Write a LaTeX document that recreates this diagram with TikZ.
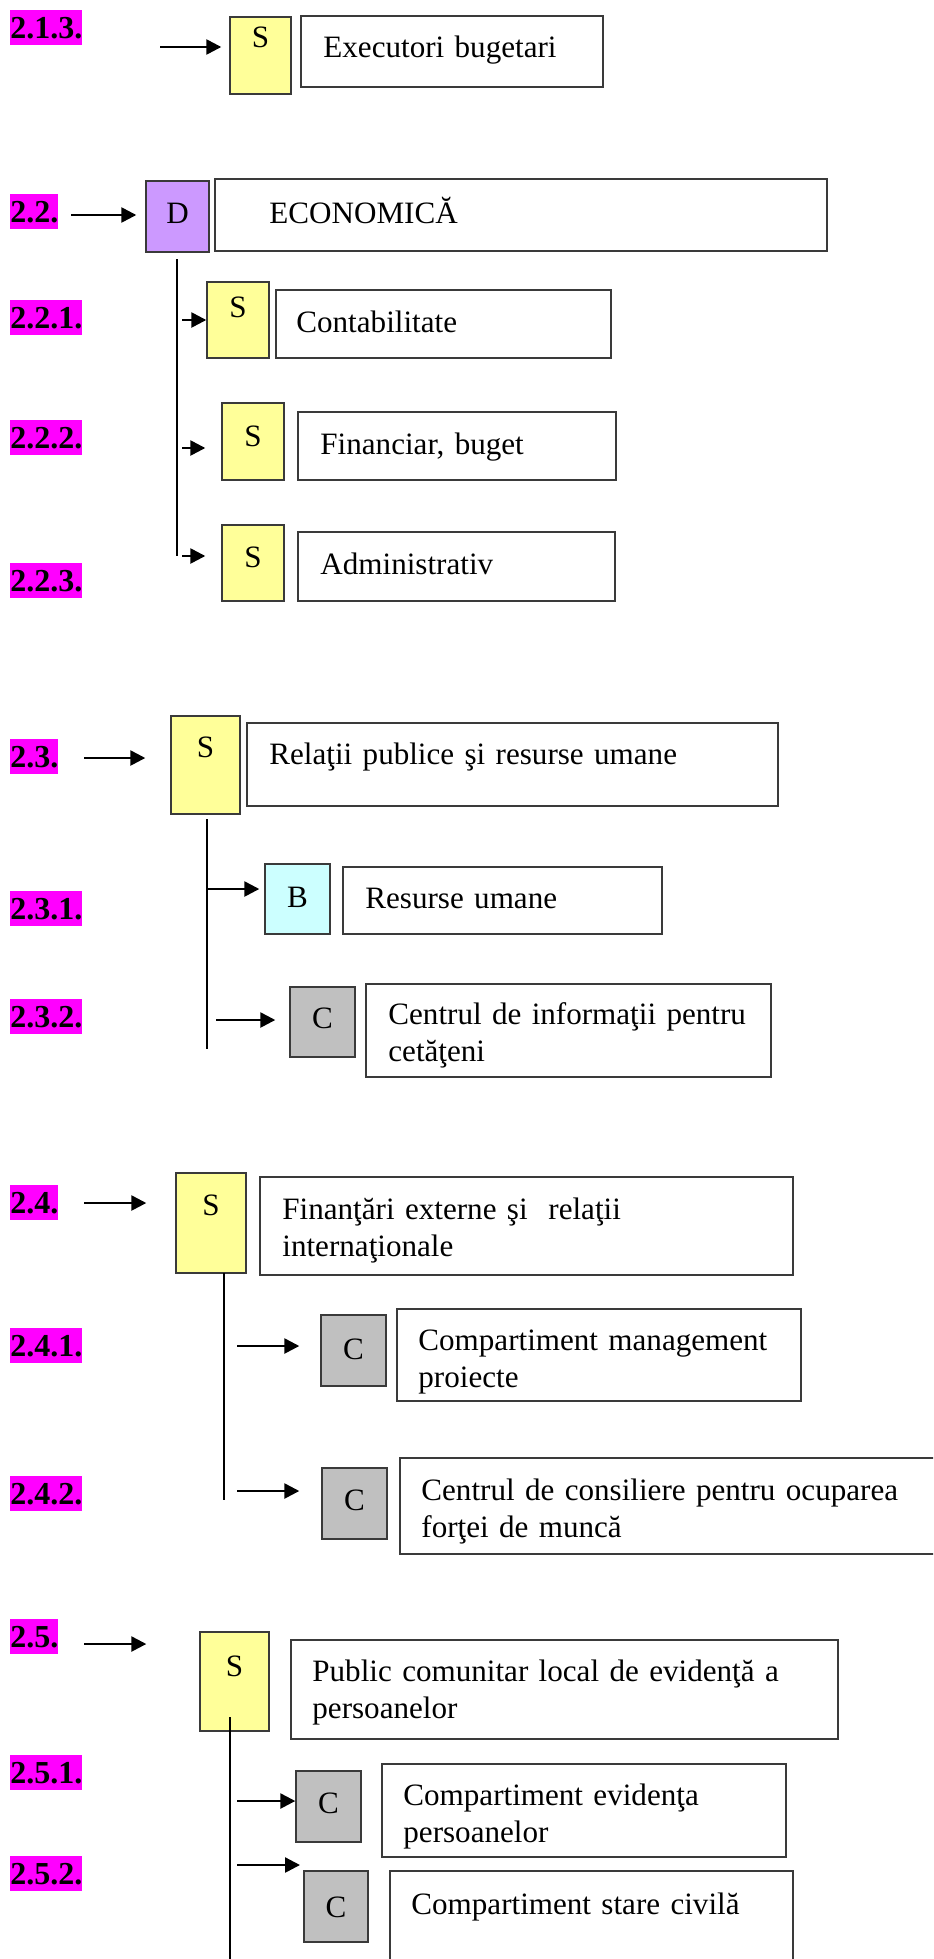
\documentclass[tikz,border=0pt]{standalone}
\usepackage{fontspec}
\setmainfont{Liberation Serif}
\usetikzlibrary{fit,arrows.meta}

\definecolor{hilite}{HTML}{FF00FF}
\definecolor{sfill}{HTML}{FFFF99}
\definecolor{dfill}{HTML}{CC99FF}
\definecolor{bfill}{HTML}{CCFFFF}
\definecolor{cfill}{HTML}{C0C0C0}
\definecolor{edge}{HTML}{3A3A3A}

\tikzset{
    lbl/.style={fill=hilite, inner sep=0pt, text height=0.891em, text depth=0.216em, anchor=north west, font=\fontsize{16}{18.5}\selectfont\bfseries},
    unit/.style={draw=edge, line width=0.7pt, inner sep=0pt},
    txtbox/.style={draw=edge, line width=0.9pt, inner sep=0pt},
    txt/.style={anchor=base west, inner sep=0pt, yshift=-1pt, text width=260pt, align=left},
    lett/.style={anchor=base, inner sep=0pt},
    arr/.style={-{Triangle[length=7.5pt,width=7.5pt]}, line width=1.25pt},
    vline/.style={line width=0.75pt}
}

\begin{document}
\fontsize{15.55}{18.5}\selectfont
\begin{tikzpicture}[x=0.5pt, y=-0.5pt]
    \useasboundingbox[fill=white] (0,0) rectangle (933,1959);
    \clip (0,0) rectangle (933,1959);

    \node[lbl] (l213) at (10,10) {2.1.3.};
    \node[unit, fill=sfill, fit={(230,17) (291,94)}] (s213) {};
    \node[lett] (k213) at (260.5,48) {S};
    \node[txtbox, fit={(301,16) (603,87)}] (t213) {};
    \node[txt] (x213) at (323,56) {Executori bugetari};
    \coordinate (a213) at (160,47);
    \draw[arr, shorten >=4pt] (a213) -- (s213.west |- a213);

    \node[lbl] (l22) at (10,194) {2.2.};
    \node[unit, fill=dfill, fit={(146,181) (209,252)}] (d22) {};
    \node[lett] (k22) at (177.5,223) {D};
    \node[txtbox, fit={(215,179) (827,251)}] (t22) {};
    \node[txt] (x22) at (269,221) {ECONOMICĂ};
    \coordinate (a22) at (71,215);
    \draw[arr, shorten >=4.5pt] (a22) -- (d22.west |- a22);
    \coordinate (v22) at (177,259);
    \coordinate (e22) at (177,556);
    \draw[vline] (v22) -- (e22);

    \node[lbl] (l221) at (10,300) {2.2.1.};
    \node[unit, fill=sfill, fit={(207,282) (269,358)}] (s221) {};
    \node[lett] (k221) at (238,317) {S};
    \node[txtbox, fit={(276,290) (611,358)}] (t221) {};
    \node[txt] (x221) at (296,330) {Contabilitate};
    \coordinate (a221) at (182,320);
    \draw[arr] (a221) -- (s221.west |- a221);

    \node[lbl] (l222) at (10,420) {2.2.2.};
    \node[unit, fill=sfill, fit={(222,403) (284,480)}] (s222) {};
    \node[lett] (k222) at (253,446) {S};
    \node[txtbox, fit={(298,412) (616,480)}] (t222) {};
    \node[txt] (x222) at (320,452) {Financiar, buget};
    \coordinate (a222) at (182,448);
    \draw[arr, shorten >=8pt] (a222) -- (s222.west |- a222);

    \node[lbl] (l223) at (10,563) {2.2.3.};
    \node[unit, fill=sfill, fit={(222,525) (284,601)}] (s223) {};
    \node[lett] (k223) at (253,567) {S};
    \node[txtbox, fit={(298,532) (615,601)}] (t223) {};
    \node[txt] (x223) at (320,572) {Administrativ};
    \coordinate (a223) at (182,556);
    \draw[arr, shorten >=8pt] (a223) -- (s223.west |- a223);

    \node[lbl] (l23) at (10,739) {2.3.};
    \node[unit, fill=sfill, fit={(171,716) (240,814)}] (s23) {};
    \node[lett] (k23) at (205.5,757) {S};
    \node[txtbox, fit={(247,723) (778,806)}] (t23) {};
    \node[txt] (x23) at (269,762) {Relaţii publice şi resurse umane};
    \coordinate (a23) at (84,758);
    \draw[arr, shorten >=12.5pt] (a23) -- (s23.west |- a23);
    \coordinate (v23) at (207,819);
    \coordinate (e23) at (207,1049);
    \draw[vline] (v23) -- (e23);

    \node[lbl] (l231) at (10,891) {2.3.1.};
    \node[unit, fill=bfill, fit={(265,864) (330,934)}] (b231) {};
    \node[lett] (k231) at (297.5,907) {B};
    \node[txtbox, fit={(343,867) (662,934)}] (t231) {};
    \node[txt] (x231) at (365,906) {Resurse umane};
    \coordinate (a231) at (207,889);
    \draw[arr, shorten >=2.5pt] (a231) -- (b231.west |- a231);

    \node[lbl] (l232) at (10,999) {2.3.2.};
    \node[unit, fill=cfill, fit={(290,987) (355,1057)}] (c232) {};
    \node[lett] (k232) at (322.5,1028) {C};
    \node[txtbox, fit={(366,984) (771,1077)}] (t232) {};
    \node[txt] (x232) at (388,1022) {Centrul de informaţii pentru\\cetăţeni};
    \coordinate (a232) at (216,1020);
    \draw[arr, shorten >=7pt] (a232) -- (c232.west |- a232);

    \node[lbl] (l24) at (10,1185) {2.4.};
    \node[unit, fill=sfill, fit={(176,1173) (246,1273)}] (s24) {};
    \node[lett] (k24) at (211,1215) {S};
    \node[txtbox, fit={(260,1177) (793,1275)}] (t24) {};
    \node[txt] (x24) at (282,1217) {Finanţări externe şi\ \ relaţii\\internaţionale};
    \coordinate (a24) at (84,1203);
    \draw[arr, shorten >=14.5pt] (a24) -- (s24.west |- a24);
    \coordinate (v24) at (224,1273);
    \coordinate (e24) at (224,1500);
    \draw[vline] (v24) -- (e24);

    \node[lbl] (l241) at (10,1328) {2.4.1.};
    \node[unit, fill=cfill, fit={(321,1315) (386,1386)}] (c241) {};
    \node[lett] (k241) at (353.5,1359) {C};
    \node[txtbox, fit={(397,1309) (801,1401)}] (t241) {};
    \node[txt] (x241) at (418,1348) {Compartiment management\\proiecte};
    \coordinate (a241) at (237,1346);
    \draw[arr, shorten >=10.5pt] (a241) -- (c241.west |- a241);

    \node[lbl] (l242) at (10,1476) {2.4.2.};
    \node[unit, fill=cfill, fit={(322,1468) (387,1539)}] (c242) {};
    \node[lett] (k242) at (354.5,1510) {C};
    \node[txtbox, fit={(400,1458) (945,1554)}] (t242) {};
    \node[txt] (x242) at (421,1498) {Centrul de consiliere pentru ocuparea\\forţei de muncă};
    \coordinate (a242) at (237,1491);
    \draw[arr, shorten >=11pt] (a242) -- (c242.west |- a242);

    \node[lbl] (l25) at (10,1619) {2.5.};
    \node[unit, fill=sfill, fit={(200,1632) (269,1731)}] (s25) {};
    \node[lett] (k25) at (234.5,1676) {S};
    \node[txtbox, fit={(291,1640) (838,1739)}] (t25) {};
    \node[txt] (x25) at (312,1679) {Public comunitar local de evidenţă a\\persoanelor};
    \coordinate (a25) at (84,1644);
    \draw[arr, shorten >=26.5pt] (a25) -- (s25.west |- a25);
    \coordinate (v25) at (230,1717);
    \coordinate (e25) at (230,1970);
    \draw[vline] (v25) -- (e25);

    \node[lbl] (l251) at (10,1755) {2.5.1.};
    \node[unit, fill=cfill, fit={(296,1771) (361,1842)}] (c251) {};
    \node[lett] (k251) at (328.5,1813) {C};
    \node[txtbox, fit={(382,1764) (786,1857)}] (t251) {};
    \node[txt] (x251) at (403,1803) {Compartiment evidenţa\\persoanelor};
    \coordinate (a251) at (237,1801);
    \draw[arr] (a251) -- (c251.west |- a251);

    \node[lbl] (l252) at (10,1856) {2.5.2.};
    \node[unit, fill=cfill, fit={(304,1871) (368,1942)}] (c252) {};
    \node[lett] (k252) at (336,1917) {C};
    \node[txtbox, fit={(390,1871) (793,1980)}] (t252) {};
    \node[txt] (x252) at (411,1912) {Compartiment stare civilă};
    \coordinate (a252) at (237,1865);
    \coordinate (z252) at (300,1865);
    \draw[arr] (a252) -- (z252);
\end{tikzpicture}
\end{document}
